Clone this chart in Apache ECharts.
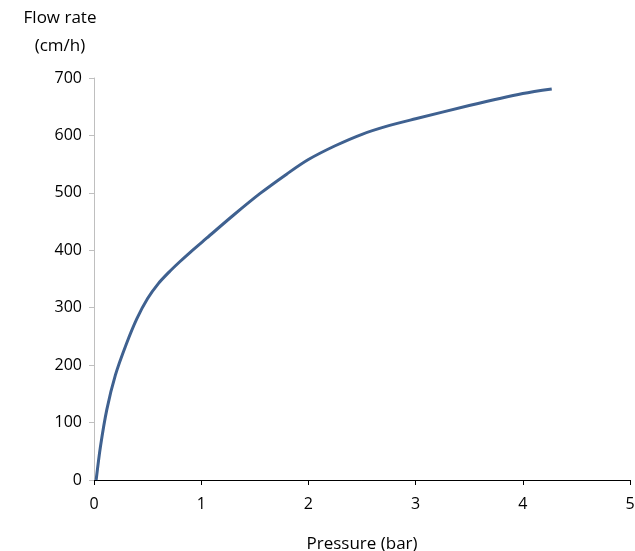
<!DOCTYPE html>
<html><head><meta charset="utf-8">
<script src="https://cdn.jsdelivr.net/npm/echarts@6/dist/echarts.min.js"></script>
<style>html,body{margin:0;padding:0;background:#fff}#c{width:635px;height:551px}</style>
</head><body><div id="c"></div>
<script>
var pressure = [0.02, 0.06, 0.12, 0.2, 0.3, 0.4, 0.5, 0.6, 0.7, 0.8, 0.9, 1.05, 1.3, 1.55, 1.8, 2.0, 2.25, 2.5, 2.75, 3.0, 3.5, 4.0, 4.27];
var flowRate = [0, 58, 123, 183, 236, 281, 316, 342, 362, 380, 397, 421, 461, 499, 533, 558, 582, 602, 617, 629, 652, 673, 681];
var xTicks = [0, 1, 2, 3, 4, 5];
var yTicks = [0, 100, 200, 300, 400, 500, 600, 700];
var font = 'Open Sans';
var chart = echarts.init(document.getElementById('c'));
chart.setOption({
  animation: false,
  grid: {left: 94, right: 5, top: 78, bottom: 71, containLabel: false, outerBoundsMode: 'none'},
  xAxis: {
    type: 'value', min: xTicks[0], max: xTicks[xTicks.length-1], interval: 1,
    name: 'Pressure (bar)', nameLocation: 'middle', nameGap: 56,
    nameTextStyle: {fontFamily: font, fontSize: 17, color: '#000'},
    axisLine: {lineStyle: {color: '#000', width: 1}},
    axisTick: {show: true, length: 5, lineStyle: {color: '#000'}},
    axisLabel: {fontFamily: font, fontSize: 16, color: '#000', margin: 16},
    splitLine: {show: false}
  },
  yAxis: {
    type: 'value', min: yTicks[0], max: yTicks[yTicks.length-1], interval: 100,
    name: 'Flow rate\n(cm/h)', nameLocation: 'end', nameGap: 18,
    nameTextStyle: {fontFamily: font, fontSize: 17, color: '#000', align: 'center', lineHeight: 28, padding: [0, 68, 0, 0]},
    axisLine: {show: true, lineStyle: {color: '#BFBFBF', width: 1}},
    axisTick: {show: true, length: 5, lineStyle: {color: '#BFBFBF'}},
    axisLabel: {fontFamily: font, fontSize: 16, color: '#000', margin: 12},
    splitLine: {show: false}
  },
  series: [{
    type: 'line', smooth: 0.3, showSymbol: false,
    data: pressure.map(function(p, i){ return [p, flowRate[i]]; }),
    lineStyle: {color: '#3F6190', width: 3}
  }]
});
</script></body></html>
